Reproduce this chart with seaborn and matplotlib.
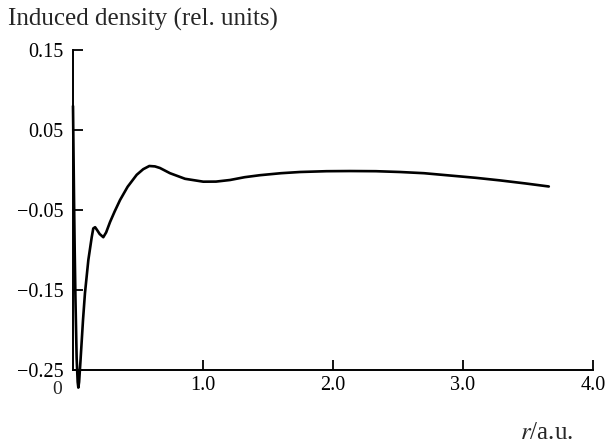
import numpy as np
import pandas as pd
import matplotlib
matplotlib.use("Agg")
import matplotlib.pyplot as plt
import seaborn as sns

r = [0.0, 0.004, 0.008, 0.013, 0.019, 0.028, 0.036, 0.041, 0.047, 0.058, 0.077,
     0.092, 0.118, 0.144, 0.156, 0.170, 0.185, 0.205, 0.233, 0.255, 0.285,
     0.320, 0.362, 0.420, 0.490, 0.540, 0.587, 0.630, 0.669, 0.746, 0.862,
     1.002, 1.100, 1.208, 1.320, 1.438, 1.600, 1.746, 1.950, 2.131, 2.330,
     2.515, 2.700, 2.900, 3.100, 3.285, 3.480, 3.660]
density = [0.08, 0.02, -0.0375, -0.10, -0.1625, -0.235, -0.265, -0.272, -0.265,
           -0.2375, -0.1875, -0.154, -0.1125, -0.084, -0.073, -0.0715, -0.075,
           -0.080, -0.084, -0.078, -0.065, -0.052, -0.0375, -0.021, -0.006,
           0.001, 0.005, 0.0045, 0.0025, -0.004, -0.011, -0.0146, -0.0145,
           -0.0125, -0.009, -0.0065, -0.004, -0.0025, -0.0015, -0.0013,
           -0.0015, -0.0025, -0.004, -0.0069, -0.0098, -0.013, -0.0168, -0.0206]

xticks = [1.0, 2.0, 3.0, 4.0]
xticklabels = ["1.0", "2.0", "3.0", "4.0"]
yticks = [0.15, 0.05, -0.05, -0.15, -0.25]
yticklabels = ["0.15", "0.05", "\u22120.05", "\u22120.15", "\u22120.25"]

df = pd.DataFrame({"r": r, "density": density})

sns.set_style("ticks")
plt.rcParams["font.family"] = ["Liberation Serif", "DejaVu Serif"]
plt.rcParams["mathtext.fontset"] = "stix"

fig = plt.figure(figsize=(6.09, 4.45), dpi=100)
ax = fig.add_axes([73/609, 75/445, (593-73)/609, (370-50)/445])

sns.lineplot(data=df, x="r", y="density", sort=False, estimator=None,
             color="black", linewidth=1.9, ax=ax)
for ln in ax.lines:
    ln.set_clip_on(False)

ax.set_xlim(0, 4.0)
ax.set_ylim(-0.25, 0.15)
ax.set_xticks(xticks)
ax.set_xticklabels(xticklabels)
ax.set_yticks(yticks)
ax.set_yticklabels(yticklabels)
ax.tick_params(direction="in", length=7, width=1.3, labelsize=14.5, colors="black")
ax.tick_params(axis="x", pad=4)
ax.tick_params(axis="y", pad=7)
for s in ["top", "right"]:
    ax.spines[s].set_visible(False)
for s in ["left", "bottom"]:
    ax.spines[s].set_linewidth(1.4)
    ax.spines[s].set_color("black")

ax.set_xlabel("")
ax.set_ylabel("")
fig.text(8/609, 1 - 19/445, "Induced density (rel. units)", fontsize=18,
         ha="left", va="center")
fig.text(57/609, 1 - 390/445, "0", fontsize=14, ha="center", va="center")
fig.text(547/609, 1 - 433/445, r"$r$/a.u.", fontsize=18, ha="center", va="center")

fig.savefig("out.png", dpi=100)
